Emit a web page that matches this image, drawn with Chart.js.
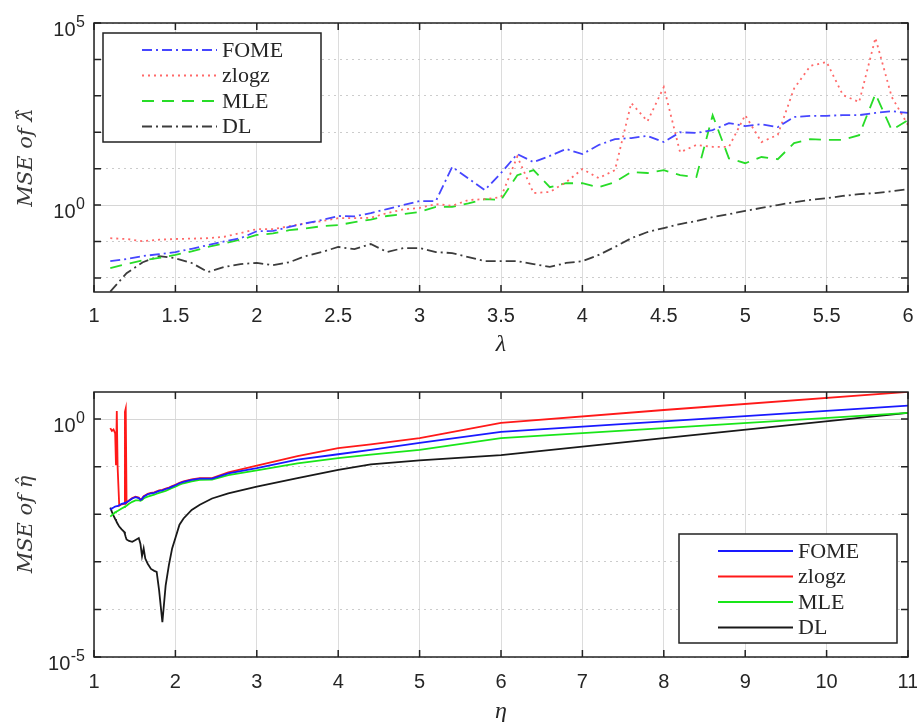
<!DOCTYPE html>
<html>
<head>
<meta charset="utf-8">
<script src="https://cdn.jsdelivr.net/npm/chart.js@4.4.1/dist/chart.umd.min.js"></script>
<style>
html, body { margin: 0; padding: 0; background: #fff; overflow: hidden; }
#wrap { position: relative; width: 917px; height: 722px; }
#c1 { position: absolute; left: 0; top: 0; }
#c2 { position: absolute; left: 0; top: 360px; }
</style>
</head>
<body>
<div id="wrap">
  <canvas id="c1" width="917" height="360"></canvas>
  <canvas id="c2" width="917" height="370"></canvas>
</div>
<script>
// top panel: MSE of lambda-hat vs lambda
var lambdaX = [1.1,1.2,1.3,1.4,1.5,1.6,1.7,1.8,1.9,2.0,
               2.1,2.2,2.3,2.4,2.5,2.6,2.7,2.8,2.9,3.0,
               3.1,3.2,3.3,3.4,3.5,3.6,3.7,3.8,3.9,4.0,
               4.1,4.2,4.3,4.4,4.5,4.6,4.7,4.8,4.9,5.0,
               5.1,5.2,5.3,5.4,5.5,5.6,5.7,5.8,5.9,6.0];
var fomeLam = [0.0288,0.0331,0.0398,0.0447,0.0513,0.0631,0.0794,0.100,0.123,0.191,
               0.195,0.251,0.316,0.389,0.501,0.490,0.603,0.776,1.00,1.29,
               1.29,11.2,5.37,2.57,7.59,25.1,15.1,22.4,34.7,25.1,
               44.7,64.6,69.2,79.4,53.7,100,95.5,115,178,148,
               166,138,263,282,282,295,295,339,380,339];
var zlogzLam = [0.123,0.117,0.102,0.112,0.117,0.120,0.123,0.135,0.170,0.219,
                0.219,0.263,0.316,0.363,0.437,0.437,0.447,0.603,0.759,0.832,
                1.07,0.955,1.38,1.45,1.66,21.4,2.14,2.29,4.27,9.77,
                5.50,9.12,631,200,1740,28.2,44.7,39.8,39.8,295,
                53.7,85.1,1580,6610,8510,1050,676,38900,933,158];
var mleLam = [0.0186,0.0240,0.0302,0.0355,0.0427,0.0537,0.0708,0.0891,0.112,0.151,
              0.166,0.204,0.229,0.263,0.282,0.339,0.398,0.501,0.562,0.646,
              0.891,0.891,1.12,1.45,1.38,6.61,9.12,3.09,3.98,3.98,
              3.09,4.27,8.13,7.59,9.12,6.61,5.89,295,19.1,14.1,
              20.9,18.2,50.1,64.6,61.7,61.7,83.2,1120,115,214];
var dlLam = [0.0042,0.0135,0.0269,0.0398,0.0347,0.0257,0.0145,0.0200,0.0240,0.0257,
             0.0224,0.0269,0.0398,0.0513,0.0708,0.0617,0.0851,0.0513,0.0661,0.0661,
             0.0513,0.0479,0.0372,0.0288,0.0288,0.0288,0.0240,0.0200,0.0257,0.0288,
             0.0427,0.0708,0.123,0.182,0.234,0.302,0.363,0.468,0.562,0.692,
             0.832,1.00,1.20,1.38,1.55,1.78,2.00,2.14,2.40,2.75];

// bottom panel: MSE of eta-hat vs eta
var etaX = [1.20,1.22,1.24,1.26,1.27,1.28,1.29,1.31,1.34,1.37,
            1.38,1.39,1.40,1.43,1.47,1.51,1.55,1.57,1.59,1.61,
            1.63,1.66,1.70,1.74,1.77,1.80,1.84,1.88,1.92,1.96,
            2.00,2.05,2.10,2.20,2.30,2.45,2.65,3.00,3.50,4.00,
            4.40,5.00,6.00,8.00,11.00];
var fomeEta = [1.23e-2,1.32e-2,1.38e-2,1.45e-2,1.45e-2,1.48e-2,1.48e-2,1.55e-2,1.66e-2,1.70e-2,
               1.74e-2,1.74e-2,1.78e-2,1.91e-2,2.14e-2,2.29e-2,2.19e-2,2.00e-2,2.09e-2,2.34e-2,
               2.45e-2,2.63e-2,2.75e-2,2.82e-2,2.95e-2,3.09e-2,3.16e-2,3.39e-2,3.55e-2,3.80e-2,
               4.07e-2,4.47e-2,4.79e-2,5.25e-2,5.62e-2,5.62e-2,7.24e-2,9.33e-2,0.141,0.182,
               0.224,0.316,0.537,0.891,1.91];
var zlogzEta = [0.646,0.562,0.603,0.501,0.107,1.48,0.100,1.51e-2,1.62e-2,1.66e-2,
                1.41,1.66,1.74e-2,1.95e-2,2.19e-2,2.34e-2,2.24e-2,2.04e-2,2.14e-2,2.40e-2,
                2.51e-2,2.69e-2,2.82e-2,2.88e-2,3.02e-2,3.16e-2,3.24e-2,3.47e-2,3.63e-2,3.89e-2,
                4.17e-2,4.57e-2,4.90e-2,5.37e-2,5.75e-2,5.75e-2,7.59e-2,0.105,0.166,0.245,
                0.295,0.398,0.832,1.55,3.72];
var mleEta = [8.91e-3,9.55e-3,1.02e-2,1.10e-2,1.12e-2,1.15e-2,1.17e-2,1.23e-2,1.32e-2,1.41e-2,
              1.45e-2,1.48e-2,1.51e-2,1.66e-2,1.82e-2,1.95e-2,1.95e-2,1.91e-2,2.00e-2,2.14e-2,
              2.24e-2,2.34e-2,2.45e-2,2.57e-2,2.69e-2,2.82e-2,2.95e-2,3.09e-2,3.31e-2,3.55e-2,
              3.80e-2,4.17e-2,4.47e-2,4.90e-2,5.25e-2,5.37e-2,6.61e-2,8.32e-2,0.117,0.151,
              0.178,0.224,0.398,0.646,1.35];
var dlEta = [1.38e-2,1.12e-2,9.33e-3,7.94e-3,7.41e-3,6.76e-3,6.31e-3,5.50e-3,4.79e-3,4.27e-3,
             3.80e-3,3.31e-3,2.95e-3,2.75e-3,2.63e-3,2.88e-3,3.16e-3,2.40e-3,1.32e-3,1.91e-3,
             1.17e-3,9.12e-4,7.08e-4,6.46e-4,6.17e-4,2.51e-4,5.37e-5,3.16e-4,8.51e-4,1.91e-3,
             3.16e-3,6.03e-3,8.13e-3,1.23e-2,1.58e-2,2.14e-2,2.75e-2,3.80e-2,5.75e-2,8.51e-2,
             0.112,0.135,0.174,0.398,1.35];

var seriesNames = ['FOME', 'zlogz', 'MLE', 'DL'];

// axis ticks; y labels are "10" with the exponent given here (null = no label)
var lambdaTicks = [1,1.5,2,2.5,3,3.5,4,4.5,5,5.5,6];
var etaTicks = [1,2,3,4,5,6,7,8,9,10,11];
var topDecades = [1e-2,1e-1,1,10,100,1e3,1e4,1e5];
var topDecadeExp = [null,null,'0',null,null,null,null,'5'];
var botDecades = [1e-5,1e-4,1e-3,1e-2,1e-1,1];
var botDecadeExp = ['-5',null,null,null,null,'0'];

var sansFont = '"Liberation Sans", Arial, Helvetica, sans-serif';
var serifFont = '"Liberation Serif", "Times New Roman", serif';
var inkColor = '#262626';

function pts(xs, ys) {
  return xs.map(function(x, i) { return {x: x, y: ys[i]}; });
}

// box around the axes with inward ticks, like matlab "box on"
var frame = {
  id: 'frame',
  afterDatasetsDraw: function(chart) {
    var ctx = chart.ctx, a = chart.chartArea;
    var xs = chart.scales.x, ys = chart.scales.y, t = 7;
    ctx.save();
    ctx.strokeStyle = '#222';
    ctx.lineWidth = 1.5;
    ctx.beginPath();
    xs.ticks.forEach(function(tk) {
      var p = xs.getPixelForValue(tk.value);
      ctx.moveTo(p, a.bottom); ctx.lineTo(p, a.bottom - t);
      ctx.moveTo(p, a.top); ctx.lineTo(p, a.top + t);
    });
    ys.ticks.forEach(function(tk) {
      var p = ys.getPixelForValue(tk.value);
      ctx.moveTo(a.left, p); ctx.lineTo(a.left + t, p);
      ctx.moveTo(a.right, p); ctx.lineTo(a.right - t, p);
    });
    ctx.stroke();
    ctx.strokeRect(a.left, a.top, a.right - a.left, a.bottom - a.top);
    ctx.restore();
  }
};

// power-of-ten y tick labels with a raised exponent
var powerLabels = {
  id: 'powerLabels',
  afterDraw: function(chart, args, opts) {
    var ctx = chart.ctx, a = chart.chartArea, ys = chart.scales.y;
    ctx.save();
    ctx.fillStyle = inkColor;
    ctx.textBaseline = 'alphabetic';
    ys.ticks.forEach(function(tk, i) {
      var e = opts.exps[i];
      if (e == null) return;
      var p = ys.getPixelForValue(tk.value);
      var right = a.left - 9;
      ctx.font = '16px ' + sansFont;
      ctx.textAlign = 'right';
      var ew = ctx.measureText(e).width;
      ctx.fillText(e, right, p + 4);
      ctx.font = '20px ' + sansFont;
      ctx.fillText('10', right - ew - 0.5, p + 12.5);
    });
    ctx.restore();
  }
};

// legend inside the axes
var boxLegend = {
  id: 'boxLegend',
  afterDatasetsDraw: function(chart, args, opts) {
    var ctx = chart.ctx, a = chart.chartArea;
    var w = 218, h = 109;
    var x0 = opts.left != null ? a.left + opts.left : a.right - opts.right - w;
    var y0 = opts.top != null ? a.top + opts.top : a.bottom - opts.bottom - h;
    ctx.save();
    ctx.fillStyle = '#fff';
    ctx.fillRect(x0, y0, w, h);
    ctx.strokeStyle = '#222';
    ctx.lineWidth = 1.5;
    ctx.strokeRect(x0, y0, w, h);
    ctx.font = '22px ' + serifFont;
    ctx.textBaseline = 'middle';
    chart.data.datasets.forEach(function(ds, i) {
      var y = y0 + 17 + i * 25.5;
      ctx.beginPath();
      ctx.setLineDash(ds.borderDash || []);
      ctx.strokeStyle = ds.borderColor;
      ctx.lineWidth = ds.borderWidth;
      ctx.moveTo(x0 + 39, y);
      ctx.lineTo(x0 + 114, y);
      ctx.stroke();
      ctx.setLineDash([]);
      ctx.fillStyle = inkColor;
      ctx.fillText(ds.label, x0 + 119, y + 1);
    });
    ctx.restore();
  }
};

function xScale(tickVals, title, axisH, tickPad, titlePad) {
  return {
    type: 'linear',
    min: tickVals[0],
    max: tickVals[tickVals.length - 1],
    afterBuildTicks: function(s) {
      s.ticks = tickVals.map(function(v) { return {value: v}; });
    },
    afterFit: function(s) {
      s.height = axisH;
      s.paddingLeft = 0;
      s.paddingRight = 0;
    },
    grid: { color: '#dcdcdc', lineWidth: 1, drawTicks: false },
    border: { display: false },
    ticks: {
      autoSkip: false, maxRotation: 0, padding: tickPad, color: inkColor,
      font: { family: sansFont, size: 20 },
      callback: function(v) { return String(v); }
    },
    title: {
      display: true, text: title, color: inkColor,
      font: { family: serifFont, style: 'italic', size: 24 },
      padding: { top: 0, bottom: titlePad }
    }
  };
}

function yScale(decades, min, max, title) {
  return {
    type: 'logarithmic',
    min: min,
    max: max,
    afterBuildTicks: function(s) {
      s.ticks = decades.map(function(v) { return {value: v, major: v === 1}; });
    },
    afterFit: function(s) { s.width = 94; },
    grid: {
      drawTicks: false, lineWidth: 1,
      color: function(c) { return (c.tick && c.tick.value === 1) ? '#d6d6d6' : '#cccccc'; }
    },
    border: {
      display: false,
      dash: function(c) { return (c.tick && c.tick.value === 1) ? [] : [2, 4]; }
    },
    ticks: {
      autoSkip: false, padding: 9,
      callback: function() { return ''; }
    },
    title: {
      display: true, text: title, color: '#3a3a3a',
      font: { family: '"DejaVu Serif", serif', style: 'italic', size: 21 },
      padding: { top: 14, bottom: 0 }
    }
  };
}

function lineSet(label, xs, ys, color, dash, width) {
  return {
    label: label, data: pts(xs, ys),
    borderColor: color, borderDash: dash, borderWidth: width,
    pointRadius: 0, tension: 0, fill: false
  };
}

new Chart(document.getElementById('c1'), {
  type: 'line',
  data: {
    datasets: [
      lineSet(seriesNames[0], lambdaX, fomeLam, 'rgb(70,70,255)', [10, 4, 2, 4], 1.8),
      lineSet(seriesNames[1], lambdaX, zlogzLam, 'rgb(255,105,105)', [2, 4], 1.8),
      lineSet(seriesNames[2], lambdaX, mleLam, 'rgb(40,220,40)', [12, 8], 1.8),
      lineSet(seriesNames[3], lambdaX, dlLam, 'rgb(60,60,60)', [10, 4, 2, 4], 1.8)
    ]
  },
  options: {
    responsive: false, animation: false, devicePixelRatio: 1,
    layout: { padding: { top: 23, right: 9, left: 0, bottom: 0 } },
    scales: {
      x: xScale(lambdaTicks, '\u03BB', 68, 12, 1),
      y: yScale(topDecades, 0.0041, 1e5, 'MSE of \u03BB\u0302')
    },
    plugins: {
      legend: { display: false },
      tooltip: { enabled: false },
      boxLegend: { left: 9, top: 10 },
      powerLabels: { exps: topDecadeExp }
    }
  },
  plugins: [frame, boxLegend, powerLabels]
});

new Chart(document.getElementById('c2'), {
  type: 'line',
  data: {
    datasets: [
      lineSet(seriesNames[0], etaX, fomeEta, 'rgb(25,25,255)', [], 1.8),
      lineSet(seriesNames[1], etaX, zlogzEta, 'rgb(255,25,25)', [], 1.8),
      lineSet(seriesNames[2], etaX, mleEta, 'rgb(25,230,25)', [], 1.8),
      lineSet(seriesNames[3], etaX, dlEta, 'rgb(25,25,25)', [], 1.8)
    ]
  },
  options: {
    responsive: false, animation: false, devicePixelRatio: 1,
    layout: { padding: { top: 32, right: 9, left: 0, bottom: 0 } },
    scales: {
      x: xScale(etaTicks, '\u03B7', 73, 13, 4),
      y: yScale(botDecades, 1e-5, 3.7, 'MSE of \u03B7\u0302')
    },
    plugins: {
      legend: { display: false },
      tooltip: { enabled: false },
      boxLegend: { right: 11, bottom: 14 },
      powerLabels: { exps: botDecadeExp }
    }
  },
  plugins: [frame, boxLegend, powerLabels]
});
</script>
</body>
</html>
